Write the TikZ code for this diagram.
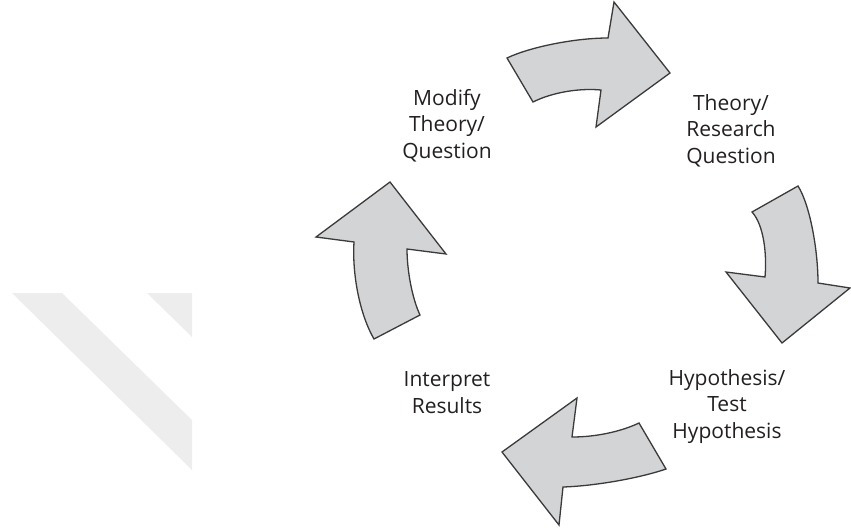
\documentclass[tikz,border=0pt]{standalone}
\usepackage{fontspec}
\setmainfont{Open Sans}
\definecolor{arrowfill}{RGB}{211,212,214}
\definecolor{arrowline}{RGB}{58,58,58}
\definecolor{labeltext}{RGB}{35,31,32}
\definecolor{markfill}{RGB}{237,237,237}
\begin{document}
\begin{tikzpicture}[x=1pt,y=-1pt,
  cyclearrow/.style={fill=arrowfill,draw=arrowline,line width=1.3pt,line join=miter},
  steplabel/.style={align=center,inner sep=0pt,text=labeltext,
    font=\fontsize{21}{26.5}\selectfont,anchor=base},
  markband/.style={fill=markfill,draw=none}]
\useasboundingbox (0,0) rectangle (851,530);

% faint diagonal bands at the left
\fill[markband] (12,293) -- (62,293) -- (192,420) -- (192,470) -- cycle;
\fill[markband] (147,293) -- (192,293) -- (192,337) -- cycle;

% top arrow (pointing right)
\draw[cyclearrow] (507,58) .. controls (530,47) and (575,38) .. (608,38)
  -- (614,2) -- (670,73) -- (596,127) -- (601,90)
  .. controls (580,88) and (553,92) .. (533,102) -- cycle;

% right arrow (pointing down)
\draw[cyclearrow] (752,212) -- (798,186)
  .. controls (810,205) and (818,250) .. (818,283)
  -- (850,288) -- (782,343) -- (726,272) -- (765,277)
  .. controls (767,255) and (764,225) .. (752,212) -- cycle;

% bottom arrow (pointing left)
\draw[cyclearrow] (639,423) -- (666,469)
  .. controls (640,478) and (595,486) .. (563,487)
  -- (559,525) -- (502,452) -- (577,398) -- (572,437)
  .. controls (595,437) and (620,432) .. (639,423) -- cycle;

% left arrow (pointing up)
\draw[cyclearrow] (374,339) -- (420,315)
  .. controls (412,298) and (407,270) .. (407,249)
  -- (446,254) -- (390,182) -- (316,237) -- (354,242)
  .. controls (352,275) and (360,315) .. (374,339) -- cycle;

% step labels (placed by the baseline of their last line)
\node[steplabel] (modify) at (447,158) {Modify\\Theory/\\Question};
\node[steplabel] (theory) at (731,163) {Theory/\\Research\\Question};
\node[steplabel] (hypo) at (727,438) {Hypothesis/\\Test\\Hypothesis};
\node[steplabel] (interp) at (447,413) {Interpret\\Results};
\end{tikzpicture}
\end{document}
